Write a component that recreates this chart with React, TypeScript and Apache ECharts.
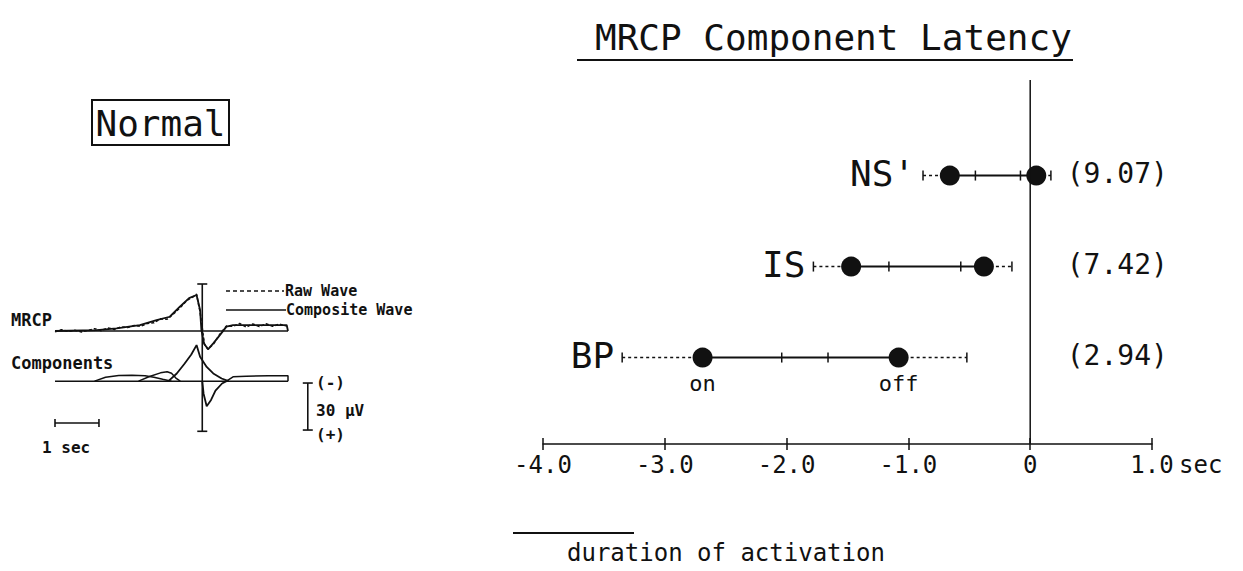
import React, { useEffect, useRef } from "react";
import * as echarts from "echarts";

const FONT = '"DejaVu Sans Mono", "Liberation Mono", monospace';
const INK = "#111";

// ---- Latency panel data (seconds relative to movement onset) ----
const ROWS = ["BP", "IS", "NS'"];
const ROW_POS = [1, 2, 3];
const LEFT_END = [-3.35, -1.78, -0.88];
const ON_MEAN = [-2.69, -1.47, -0.66];
const ON_TICK = [-2.04, -1.16, -0.45];
const OFF_TICK = [-1.66, -0.57, -0.08];
const OFF_MEAN = [-1.08, -0.38, 0.05];
const RIGHT_END = [-0.52, -0.15, 0.17];
const RATIOS = ["(2.94)", "(7.42)", "(9.07)"];
const ON_LABEL = ["on", "", ""];
const OFF_LABEL = ["off", "", ""];
const RATIO_X = 0.3;

// ---- Waveform inset data (time s, amplitude uV, negative = up) ----
const COMP_T = [-3.35, -2.4, -1.95, -1.42, -1.04, -0.74, -0.51, -0.3, -0.13, -0.05, -0.02, 0.04, 0.13, 0.25, 0.4, 0.55, 0.7, 1.3, 1.92, 1.95];
const COMP_V = [0, -0.6, -1.7, -3.8, -7.0, -9.1, -15.5, -21, -23, -13.4, -0.6, 7.9, 11.7, 7.9, 2.6, -2.8, -3.8, -3.8, -3.8, 0];
const RAW_T = [-3.35, -3.2, -3.05, -2.9, -2.75, -2.6, -2.45, -2.3, -2.15, -2.0, -1.85, -1.7, -1.55, -1.4, -1.25, -1.1, -0.95, -0.8, -0.65, -0.5, -0.35, -0.2, -0.13, -0.05, 0.0, 0.05, 0.13, 0.25, 0.4, 0.55, 0.7, 0.85, 1.0, 1.15, 1.3, 1.45, 1.6, 1.75, 1.9];
const RAW_V = [0.5, -0.8, 0.3, -0.5, 0.6, -0.4, -1.5, -0.2, -2.0, -1.0, -2.6, -2.2, -3.5, -3.0, -4.8, -5.2, -7.8, -7.5, -11.0, -15.0, -19.5, -22.0, -23.5, -12.0, -2.0, 8.5, 11.5, 8.5, 2.0, -3.2, -3.0, -4.8, -2.5, -4.5, -2.8, -4.6, -3.0, -4.4, -3.2];
const C1_T = [-2.45, -2.2, -1.9, -1.6, -1.3, -1.1, -0.9, -0.7];
const C1_V = [0, -2.5, -3.6, -3.8, -3.5, -2.5, -1.2, 0];
const C2_T = [-1.45, -1.2, -0.95, -0.8, -0.7, -0.6, -0.5];
const C2_V = [0, -3, -5.3, -6, -5, -2, 0];
const C3_T = [-0.77, -0.58, -0.4, -0.25, -0.13, -0.05, 0.1, 0.25, 0.44, 0.6];
const C3_V = [0, -4.9, -11.3, -17, -23, -15.5, -9.1, -4.9, -1.7, 0];
const C4_T = [0, 0.03, 0.1, 0.2, 0.3, 0.45, 0.55];
const C4_V = [0, 8, 16, 12, 6, 1.5, 0];
const C5_T = [0.55, 0.7, 1.0, 1.5, 1.95, 1.95];
const C5_V = [0, -2.8, -3.2, -3.4, -3.4, 0];
const COMP_OFFSET = 32; // components trace drawn below MRCP trace
const T_RANGE = [-3.35, 1.95];
const AMP_RANGE = [-30, 64];
const TIME_BAR = [-3.35, -2.35];
const TIME_BAR_LEVEL = 58.7;
const AMP_BAR_T = 2.4;
const AMP_BAR = [33.2, 63.2];

const zip = (t: number[], v: number[], off = 0) => t.map((x, i) => [x, v[i] + off]);

function lineSeries(data: number[][], dashed = false, width = 1.5) {
  return {
    type: "line",
    xAxisIndex: 2,
    yAxisIndex: 1,
    data,
    symbol: "none",
    silent: true,
    lineStyle: { color: INK, width, type: dashed ? [3, 2] : "solid" },
  };
}

export default function App() {
  const ref = useRef<HTMLDivElement>(null);
  useEffect(() => {
    if (!ref.current) return;
    const chart = echarts.init(ref.current, null, { renderer: "svg" });
    const latencyData = ROWS.map((_, i) => [ROW_POS[i], LEFT_END[i], ON_MEAN[i], ON_TICK[i], OFF_TICK[i], OFF_MEAN[i], RIGHT_END[i]]);

    const txt = (text: string, x: number, y: number, size: number, align = "left", extra: any = {}) => ({
      type: "text",
      x,
      y,
      silent: true,
      style: { text, fontFamily: FONT, fontSize: size, fill: INK, align, verticalAlign: "middle", ...extra },
    });

    const option: any = {
      animation: false,
      backgroundColor: "#fff",
      title: {
        text: "MRCP Component Latency",
        left: 590,
        top: 14,
        textStyle: { fontFamily: FONT, fontSize: 36, fontWeight: "normal", color: INK },
      },
      grid: [
        { left: 543, right: 91, top: 80, bottom: 127 },
        { left: 55, width: 233, top: 284, height: 147.3 },
      ],
      xAxis: [
        {
          gridIndex: 0, type: "value", min: -4, max: 1, interval: 1, position: "bottom",
          axisLine: { lineStyle: { color: INK, width: 1.5 } },
          axisTick: { length: 6, lineStyle: { color: INK, width: 1.5 } },
          axisLabel: {
            fontFamily: FONT, fontSize: 24, color: INK, margin: 9,
            formatter: (v: number) => (v === 0 ? "0" : v.toFixed(1)),
          },
          splitLine: { show: false },
        },
        {
          gridIndex: 0, type: "value", min: -4, max: 1, interval: 1, position: "bottom",
          axisLine: { show: false },
          axisTick: { inside: true, length: 6, lineStyle: { color: INK, width: 1.5 } },
          axisLabel: { show: false },
          splitLine: { show: false },
        },
        { gridIndex: 1, type: "value", min: T_RANGE[0], max: T_RANGE[1], show: false },
      ],
      yAxis: [
        { gridIndex: 0, type: "value", min: 0.05, max: 4.05, show: false },
        { gridIndex: 1, type: "value", min: AMP_RANGE[0], max: AMP_RANGE[1], inverse: true, show: false },
      ],
      series: [
        {
          type: "line", xAxisIndex: 0, yAxisIndex: 0, symbol: "none", silent: true,
          data: [[0, 0.05], [0, 4.05]],
          lineStyle: { color: INK, width: 1.5 },
        },
        {
          type: "custom", coordinateSystem: "cartesian2d", xAxisIndex: 0, yAxisIndex: 0, silent: true,
          encode: { x: [1, 2, 3, 4, 5, 6], y: 0 },
          data: latencyData,
          renderItem: (params: any, api: any) => {
            const i = params.dataIndex;
            const r = api.value(0);
            const px = (k: number) => api.coord([api.value(k), r])[0];
            const y = api.coord([0, r])[1];
            const le = px(1), on = px(2), ot = px(3), ft = px(4), off = px(5), re = px(6);
            const seg = (a: number, b: number, dash: boolean) => ({
              type: "line",
              shape: { x1: a, y1: y, x2: b, y2: y },
              style: { stroke: INK, lineWidth: dash ? 1.5 : 2, lineDash: dash ? [3, 3] : null },
            });
            const tick = (x: number) => ({
              type: "line",
              shape: { x1: x, y1: y - 5, x2: x, y2: y + 5 },
              style: { stroke: INK, lineWidth: 1.5 },
            });
            const dot = (x: number) => ({ type: "circle", shape: { cx: x, cy: y, r: 10 }, style: { fill: INK } });
            const rx = api.coord([RATIO_X, r])[0];
            const children: any[] = [
              seg(le, on, true), seg(on, off, false), seg(off, re, true),
              tick(le), tick(re), tick(ot), tick(ft), dot(on), dot(off),
              { type: "text", x: le - 8, y: y - 2, style: { text: ROWS[i], fontFamily: FONT, fontSize: 36, fill: INK, align: "right", verticalAlign: "middle" } },
              { type: "text", x: rx, y: y - 2, style: { text: RATIOS[i], fontFamily: FONT, fontSize: 28, fill: INK, align: "left", verticalAlign: "middle" } },
            ];
            if (ON_LABEL[i]) children.push({ type: "text", x: on, y: y + 26, style: { text: ON_LABEL[i], fontFamily: FONT, fontSize: 22, fill: INK, align: "center", verticalAlign: "middle" } });
            if (OFF_LABEL[i]) children.push({ type: "text", x: off, y: y + 26, style: { text: OFF_LABEL[i], fontFamily: FONT, fontSize: 22, fill: INK, align: "center", verticalAlign: "middle" } });
            return { type: "group", children };
          },
        },
        // waveform inset
        lineSeries([[T_RANGE[0], 0], [T_RANGE[1], 0]]),
        lineSeries(zip(RAW_T, RAW_V), true, 1.5),
        lineSeries(zip(COMP_T, COMP_V), false, 1.8),
        lineSeries([[T_RANGE[0], COMP_OFFSET], [T_RANGE[1], COMP_OFFSET]]),
        lineSeries(zip(C1_T, C1_V, COMP_OFFSET)),
        lineSeries(zip(C2_T, C2_V, COMP_OFFSET)),
        lineSeries(zip(C3_T, C3_V, COMP_OFFSET), false, 1.8),
        lineSeries(zip(C4_T, C4_V, COMP_OFFSET), false, 1.8),
        lineSeries(zip(C5_T, C5_V, COMP_OFFSET)),
        {
          type: "custom", coordinateSystem: "cartesian2d", xAxisIndex: 2, yAxisIndex: 1, silent: true, clip: false,
          data: [[0, AMP_RANGE[0], AMP_RANGE[1]]],
          renderItem: (_p: any, api: any) => {
            const [x, y1] = api.coord([0, AMP_RANGE[0]]);
            const y2 = api.coord([0, AMP_RANGE[1]])[1];
            const [tx1, ty] = api.coord([TIME_BAR[0], TIME_BAR_LEVEL]);
            const tx2 = api.coord([TIME_BAR[1], TIME_BAR_LEVEL])[0];
            const [ax, ay1] = api.coord([AMP_BAR_T, AMP_BAR[0]]);
            const ay2 = api.coord([AMP_BAR_T, AMP_BAR[1]])[1];
            const L = (x1: number, yy1: number, x2: number, yy2: number) => ({
              type: "line", shape: { x1, y1: yy1, x2, y2: yy2 }, style: { stroke: INK, lineWidth: 1.6 },
            });
            return {
              type: "group",
              children: [
                L(x, y1, x, y2), L(x - 5, y1, x + 5, y1), L(x - 5, y2, x + 5, y2),
                L(tx1, ty, tx2, ty), L(tx1, ty - 4, tx1, ty + 4), L(tx2, ty - 4, tx2, ty + 4),
                L(ax, ay1, ax, ay2), L(ax - 5, ay1, ax + 5, ay1), L(ax - 5, ay2, ax + 5, ay2),
              ],
            };
          },
        },
      ],
      graphic: [
        { type: "line", silent: true, shape: { x1: 577, y1: 60, x2: 1073, y2: 60 }, style: { stroke: INK, lineWidth: 2 } },
        { type: "rect", silent: true, shape: { x: 92, y: 100, width: 137, height: 45 }, style: { fill: "none", stroke: INK, lineWidth: 2 } },
        txt("Normal", 160.5, 123, 36, "center"),
        txt("sec", 1179, 465, 24),
        { type: "line", silent: true, shape: { x1: 513, y1: 533, x2: 634, y2: 533 }, style: { stroke: INK, lineWidth: 2 } },
        txt("duration of activation", 567, 553, 24),
        txt("MRCP", 11, 320, 17, "left", { fontWeight: "bold" }),
        txt("Components", 11, 363, 17, "left", { fontWeight: "bold" }),
        { type: "line", silent: true, shape: { x1: 226, y1: 291, x2: 284, y2: 291 }, style: { stroke: INK, lineWidth: 1.5, lineDash: [4, 3] } },
        { type: "line", silent: true, shape: { x1: 226, y1: 310, x2: 286, y2: 310 }, style: { stroke: INK, lineWidth: 1.5 } },
        txt("Raw Wave", 285, 291, 15, "left", { fontWeight: "bold" }),
        txt("Composite Wave", 286, 310, 15, "left", { fontWeight: "bold" }),
        txt("(-)", 316, 382, 16, "left", { fontWeight: "bold" }),
        txt("30 μV", 316, 410, 16, "left", { fontWeight: "bold" }),
        txt("(+)", 316, 434, 16, "left", { fontWeight: "bold" }),
        txt("1 sec", 42, 447, 16, "left", { fontWeight: "bold" }),
      ],
    };
    chart.setOption(option);
    return () => chart.dispose();
  }, []);
  return <div ref={ref} style={{ position: "fixed", left: 0, top: 0, width: 1243, height: 571, background: "#fff" }} />;
}
